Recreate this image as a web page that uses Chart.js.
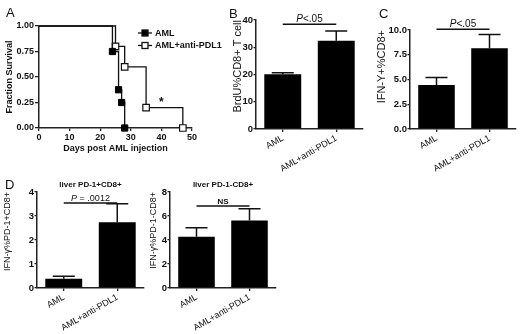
<!DOCTYPE html>
<html>
<head>
<meta charset="utf-8">
<script src="https://cdn.jsdelivr.net/npm/chart.js@4.4.1/dist/chart.umd.min.js"></script>
<style>
  html, body { margin: 0; padding: 0; background: #fff; }
  #wrap { position: relative; width: 520px; height: 334px; overflow: hidden; font-family: "Liberation Sans", Arial, sans-serif; }
  #wrap canvas { position: absolute; left: 0; top: 0; }
  .lbl { position: absolute; font-size: 13px; line-height: 13px; color: #111; }
</style>
</head>
<body>
<div id="wrap">
  <canvas id="cA" width="520" height="334"></canvas>
  <canvas id="cB" width="520" height="334"></canvas>
  <canvas id="cC" width="520" height="334"></canvas>
  <canvas id="cD1" width="520" height="334"></canvas>
  <canvas id="cD2" width="520" height="334"></canvas>
  <div class="lbl" style="left:6px;top:6px">A</div>
  <div class="lbl" style="left:229px;top:7px">B</div>
  <div class="lbl" style="left:379px;top:7px">C</div>
  <div class="lbl" style="left:5px;top:178px">D</div>
</div>
<script>
// survival (panel A)
const amlDays = [0, 24, 26, 27, 28];
const amlSurv = [1, 0.75, 0.375, 0.25, 0];
const pdl1Days = [0, 25, 28, 35, 47];
const pdl1Surv = [1, 0.8, 0.6, 0.2, 0];
const survTicks = [0, 0.25, 0.5, 0.75, 1];
const dayTicks = [0, 10, 20, 30, 40, 50];
const starAt = [40, 0.27];

// bar panels
const groups = ['AML', 'AML+anti-PDL1'];
const brduMean = [20.1, 32.4];
const brduSem = [0.5, 3.6];
const brduTicks = [0, 10, 20, 30, 40];
const ifnMean = [4.45, 8.15];
const ifnSem = [0.75, 1.4];
const ifnTicks = [0, 2.5, 5, 7.5, 10];
const pd1PosMean = [0.39, 2.74];
const pd1PosSem = [0.1, 0.77];
const pd1PosTicks = [0, 1, 2, 3, 4];
const pd1NegMean = [4.27, 5.63];
const pd1NegSem = [0.75, 0.98];
const pd1NegTicks = [0, 2, 4, 6, 8];

const FONT = '"Liberation Sans", Arial, sans-serif';
const INK = '#111';
Chart.defaults.font.family = FONT;
Chart.defaults.color = INK;
Chart.defaults.animation = false;
Chart.defaults.plugins.legend.display = false;
Chart.defaults.plugins.tooltip.enabled = false;

// layout padding so the plot area lands where it should
function pad(area, yW, xH) {
  return { left: area.l - yW, top: area.t, right: 520 - area.r, bottom: 334 - area.b - xH };
}

function axisStyle(len) {
  return {
    grid: { display: true, drawOnChartArea: false, tickLength: len, color: '#222', lineWidth: 1.3, offset: false },
    border: { color: '#222', width: 1.5 }
  };
}

// ---------- A ----------
const areaA = { l: 39, r: 192, t: 26, b: 128 };
const survDecor = {
  id: 'survDecor',
  afterDatasetsDraw(chart) {
    const ctx = chart.ctx;
    const x = chart.scales.x, y = chart.scales.y;
    ctx.save();
    ctx.font = 'bold 12px ' + FONT;
    ctx.fillStyle = INK;
    ctx.textAlign = 'center';
    ctx.textBaseline = 'middle';
    ctx.fillText('*', x.getPixelForValue(starAt[0]), y.getPixelForValue(starAt[1]) + 2);
    // legend
    chart.data.datasets.forEach((ds, i) => {
      const ly = 33 + i * 12.5;
      ctx.strokeStyle = ds.borderColor;
      ctx.lineWidth = 1.3;
      ctx.beginPath();
      ctx.moveTo(138, ly); ctx.lineTo(152, ly);
      ctx.stroke();
      ctx.fillStyle = ds.pointBackgroundColor;
      ctx.fillRect(142, ly - 3, 6, 6);
      ctx.strokeRect(142, ly - 3, 6, 6);
      ctx.fillStyle = INK;
      ctx.font = 'bold 9px ' + FONT;
      ctx.textAlign = 'left';
      ctx.fillText(ds.label, 155, ly + 0.5);
    });
    ctx.restore();
  }
};

new Chart(document.getElementById('cA'), {
  type: 'line',
  data: {
    datasets: [
      {
        label: 'AML',
        data: amlDays.map((d, i) => ({ x: d, y: amlSurv[i] })),
        stepped: true,
        borderColor: INK, borderWidth: 1.3,
        pointStyle: 'rect',
        pointRadius: c => c.dataIndex === 0 ? 0 : 4.4,
        pointBackgroundColor: '#000', pointBorderColor: '#000', pointBorderWidth: 1,
        clip: false
      },
      {
        label: 'AML+anti-PDL1',
        data: pdl1Days.map((d, i) => ({ x: d, y: pdl1Surv[i] })),
        stepped: true,
        borderColor: INK, borderWidth: 1.3,
        pointStyle: 'rect',
        pointRadius: c => c.dataIndex === 0 ? 0 : 4.6,
        pointBackgroundColor: '#fff', pointBorderColor: INK, pointBorderWidth: 1.2,
        clip: false
      }
    ]
  },
  options: {
    responsive: false,
    layout: { padding: pad(areaA, 35, 26.4) },
    scales: {
      x: {
        type: 'linear', min: 0, max: 50,
        afterBuildTicks: s => { s.ticks = dayTicks.map(v => ({ value: v })); },
        ticks: { font: { size: 9, weight: 'bold' }, padding: 1, maxRotation: 0 },
        title: { display: true, text: 'Days post AML injection', font: { size: 9, weight: 'bold' }, padding: 0 },
        afterFit: s => { s.height = 26.4; },
        ...axisStyle(3)
      },
      y: {
        min: 0, max: 1,
        afterBuildTicks: s => { s.ticks = survTicks.map(v => ({ value: v })); },
        ticks: { font: { size: 9, weight: 'bold' }, padding: 1, callback: v => v.toFixed(2) },
        title: { display: true, text: 'Fraction Survival', font: { size: 9, weight: 'bold' }, padding: 0 },
        afterFit: s => { s.width = 35; },
        ...axisStyle(4)
      }
    }
  },
  plugins: [survDecor]
});

// ---------- bar panels ----------
function barDecor(sem, sigY, sigParts, title) {
  return {
    id: 'barDecor',
    afterDatasetsDraw(chart) {
      const ctx = chart.ctx;
      const x = chart.scales.x, y = chart.scales.y;
      const mean = chart.data.datasets[0].data;
      ctx.save();
      ctx.strokeStyle = INK;
      ctx.lineWidth = 1.5;
      mean.forEach((m, i) => {
        const cx = x.getPixelForValue(i);
        const y1 = y.getPixelForValue(m + sem[i]);
        ctx.beginPath();
        ctx.moveTo(cx, y.getPixelForValue(m));
        ctx.lineTo(cx, y1);
        ctx.moveTo(cx - 11, y1);
        ctx.lineTo(cx + 11, y1);
        ctx.stroke();
      });
      const x0 = x.getPixelForValue(0), x1 = x.getPixelForValue(1);
      const sy = y.getPixelForValue(sigY);
      ctx.beginPath();
      ctx.moveTo(x0, sy); ctx.lineTo(x1, sy);
      ctx.stroke();
      // significance text; first part may be italic
      ctx.fillStyle = INK;
      ctx.textBaseline = 'alphabetic';
      let total = 0;
      sigParts.forEach(p => { ctx.font = p.f + FONT; total += ctx.measureText(p.t).width; });
      let tx = (x0 + x1) / 2 - total / 2;
      ctx.textAlign = 'left';
      sigParts.forEach(p => {
        ctx.font = p.f + FONT;
        ctx.fillText(p.t, tx, sy - 2.5);
        tx += ctx.measureText(p.t).width;
      });
      if (title) {
        ctx.font = 'bold 8px ' + FONT;
        ctx.textAlign = 'center';
        ctx.textBaseline = 'middle';
        ctx.fillText(title, (chart.chartArea.left + chart.chartArea.right) / 2, 185);
      }
      ctx.restore();
    }
  };
}

function barChart(id, area, yW, mean, sem, tickVals, decimals, yTitle, titleSize, sigY, sigParts, title) {
  const yMax = tickVals[tickVals.length - 1];
  return new Chart(document.getElementById(id), {
    type: 'bar',
    data: {
      labels: groups,
      datasets: [{ data: mean, backgroundColor: '#000', borderWidth: 0, barPercentage: 0.69, categoryPercentage: 1 }]
    },
    options: {
      responsive: false,
      layout: { padding: pad(area, yW, 62) },
      scales: {
        x: {
          ticks: { font: { size: 9 }, minRotation: 30, maxRotation: 30, autoSkip: false, padding: 1 },
          afterFit: s => { s.height = 62; },
          ...axisStyle(3)
        },
        y: {
          min: 0, max: yMax,
          afterBuildTicks: s => { s.ticks = tickVals.map(v => ({ value: v })); },
          ticks: { font: { size: 9.5, weight: 'bold' }, padding: 0.5, callback: v => v.toFixed(decimals) },
          title: { display: true, text: yTitle, align: 'end', font: { size: titleSize }, padding: 0 },
          afterFit: s => { s.width = yW; },
          ...axisStyle(2.5)
        }
      }
    },
    plugins: [barDecor(sem, sigY, sigParts, title)]
  });
}

barChart('cB', { l: 256, r: 363, t: 20, b: 129 }, 25.1, brduMean, brduSem, brduTicks, 0,
  'BrdU%CD8+ T cell', 11, 38.4,
  [{ t: 'P', f: 'italic 10px ' }, { t: '<.05', f: '10px ' }], null);

barChart('cC', { l: 410, r: 516, t: 30, b: 129 }, 34.9, ifnMean, ifnSem, ifnTicks, 1,
  'IFN-Y+%CD8+', 11, 10.07,
  [{ t: 'P', f: 'italic 10px ' }, { t: '<.05', f: '10px ' }], null);

barChart('cD1', { l: 37, r: 144, t: 192, b: 288 }, 34.4, pd1PosMean, pd1PosSem, pd1PosTicks, 0,
  'IFN-γ%PD-1+CD8+', 9, 3.54,
  [{ t: 'P', f: 'italic 9px ' }, { t: ' = .0012', f: '9px ' }], 'liver PD-1+CD8+');

barChart('cD2', { l: 170, r: 276, t: 192, b: 288 }, 21.4, pd1NegMean, pd1NegSem, pd1NegTicks, 0,
  'IFN-γ%PD-1-CD8+', 9, 6.83,
  [{ t: 'NS', f: 'bold 8px ' }], 'liver PD-1-CD8+');
</script>
</body>
</html>
